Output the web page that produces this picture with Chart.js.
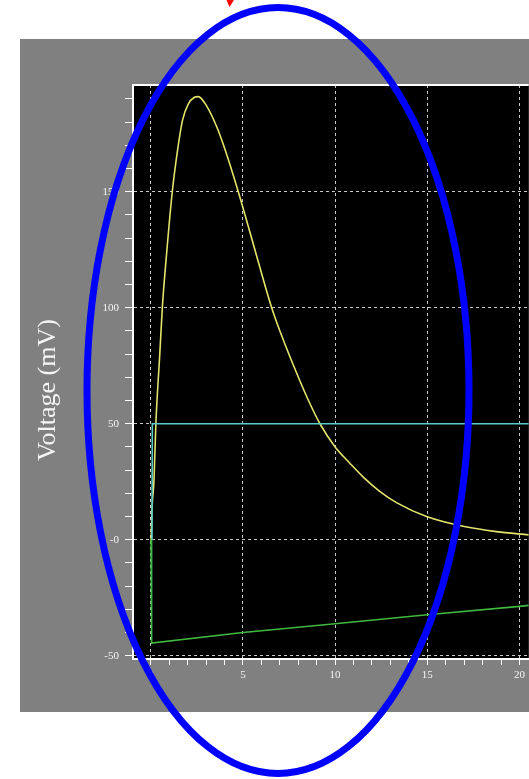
<!DOCTYPE html>
<html>
<head>
<meta charset="utf-8">
<script src="https://cdn.jsdelivr.net/npm/chart.js@4"></script>
<style>
  html, body { margin: 0; padding: 0; background: #ffffff; }
  #wrap { width: 529px; height: 779px; position: relative; }
</style>
</head>
<body>
<div id="wrap"><canvas id="chart" width="529" height="779"></canvas></div>
<script>
// membrane voltage (yellow)
var timeV = [0.02, 0.07, 0.18, 0.28, 0.5, 0.63, 0.87, 1.17, 1.44, 1.73, 2.05, 2.35, 2.58, 3.03, 3.58, 4.04, 4.75, 5.65, 6.56, 7.1, 7.8, 8.5, 9.18, 10.0, 10.8, 11.53, 12.4, 13.33, 14.96, 16.94, 18.75, 20.5];
var voltage = [-1, 13, 26, 50, 81, 100, 124, 150, 167, 181, 188, 190.6, 191, 187, 178, 168, 150, 125, 100, 88, 74, 61, 50, 40, 33, 27, 21, 16, 10, 5.8, 3.5, 2.1];

// threshold (cyan)
var timeT = [0.07, 0.09, 20.5];
var threshold = [0, 50, 50];

// recovery (green)
var timeR = [0.02, 0.05, 5, 10, 15, 20, 20.5];
var recovery = [0, -44.5, -40, -36.2, -32.3, -28.7, -28.3];

var xMajor = [0, 5, 10, 15, 20];
var xLabels = ['0', '5', '10', '15', '20'];
var yMajor = [-50, 0, 50, 100, 150];
var yLabels = ['-50', '-0', '50', '100', '150'];

function toPoints(xs, ys) {
  var pts = [];
  for (var i = 0; i < xs.length; i++) pts.push({ x: xs[i], y: ys[i] });
  return pts;
}

var tickFont = { family: 'Liberation Serif', size: 11 };

var backdrop = {
  id: 'backdrop',
  beforeDraw: function(chart) {
    var c = chart.ctx, a = chart.chartArea;
    c.save();
    c.fillStyle = '#808080';
    c.fillRect(20, 39, 509, 673);
    c.fillStyle = '#000000';
    c.fillRect(a.left, a.top, a.right - a.left, a.bottom - a.top);
    c.restore();
  },
  afterDraw: function(chart) {
    var c = chart.ctx, a = chart.chartArea;
    c.save();
    // top frame line
    c.strokeStyle = '#ffffff';
    c.lineWidth = 2;
    c.beginPath();
    c.moveTo(a.left, a.top);
    c.lineTo(a.right, a.top);
    c.stroke();

    // y axis title
    c.translate(48, 390);
    c.rotate(-Math.PI / 2);
    c.fillStyle = '#f4f4f4';
    c.font = '26px "Liberation Serif"';
    c.textAlign = 'center';
    c.textBaseline = 'middle';
    c.fillText('Voltage (mV)', 0, 0);
    c.restore();

    // hand drawn markup on top
    c.save();
    c.strokeStyle = '#0000ff';
    c.lineWidth = 7;
    c.beginPath();
    c.ellipse(278, 390.5, 191, 383, 0, 0, Math.PI * 2);
    c.stroke();
    c.fillStyle = '#ff0000';
    c.beginPath();
    c.moveTo(226.5, 0);
    c.lineTo(234, 0);
    c.lineTo(229.5, 7);
    c.closePath();
    c.fill();
    c.restore();
  }
};

var ctx = document.getElementById('chart').getContext('2d');

var chart = new Chart(ctx, {
  type: 'line',
  data: {
    datasets: [{
      data: toPoints(timeR, recovery),
      borderColor: '#40b840',
      borderWidth: 1.6,
      tension: 0
    }, {
      data: toPoints(timeT, threshold),
      borderColor: '#5ccaca',
      borderWidth: 1.6,
      tension: 0
    }, {
      data: toPoints(timeV, voltage),
      borderColor: '#e4e46a',
      borderWidth: 1.6,
      cubicInterpolationMode: 'monotone'
    }]
  },
  options: {
    responsive: false,
    animation: false,
    layout: { padding: { left: 20, top: 85, right: 0, bottom: 67 } },
    elements: { point: { radius: 0 } },
    plugins: { legend: { display: false }, tooltip: { enabled: false } },
    scales: {
      x: {
        type: 'linear',
        min: -0.96,
        max: 20.5,
        afterFit: function(s) { s.height = 53; },
        ticks: {
          stepSize: 1,
          includeBounds: false,
          autoSkip: false,
          maxRotation: 0,
          color: '#f4f4f4',
          font: tickFont,
          padding: 4,
          callback: function(v) {
            var i = xMajor.indexOf(v);
            return i < 0 ? '' : xLabels[i];
          }
        },
        grid: {
          color: function(c) {
            return c.tick && xMajor.indexOf(c.tick.value) >= 0 ? '#c8c8c8' : 'rgba(0,0,0,0)';
          },
          tickColor: '#ffffff',
          tickLength: 6,
          lineWidth: 1
        },
        border: { color: '#ffffff', width: 2, dash: [3, 3] }
      },
      y: {
        type: 'linear',
        min: -51.4,
        max: 196,
        afterFit: function(s) { s.width = 113; },
        ticks: {
          stepSize: 10,
          includeBounds: false,
          autoSkip: false,
          color: '#f4f4f4',
          font: tickFont,
          padding: 6,
          callback: function(v) {
            var i = yMajor.indexOf(v);
            return i < 0 ? '' : yLabels[i];
          }
        },
        grid: {
          color: function(c) {
            return c.tick && yMajor.indexOf(c.tick.value) >= 0 ? '#c8c8c8' : 'rgba(0,0,0,0)';
          },
          tickColor: '#ffffff',
          tickLength: 8,
          lineWidth: 1
        },
        border: { color: '#ffffff', width: 2, dash: [3, 3] }
      }
    }
  },
  plugins: [backdrop]
});
</script>
</body>
</html>
